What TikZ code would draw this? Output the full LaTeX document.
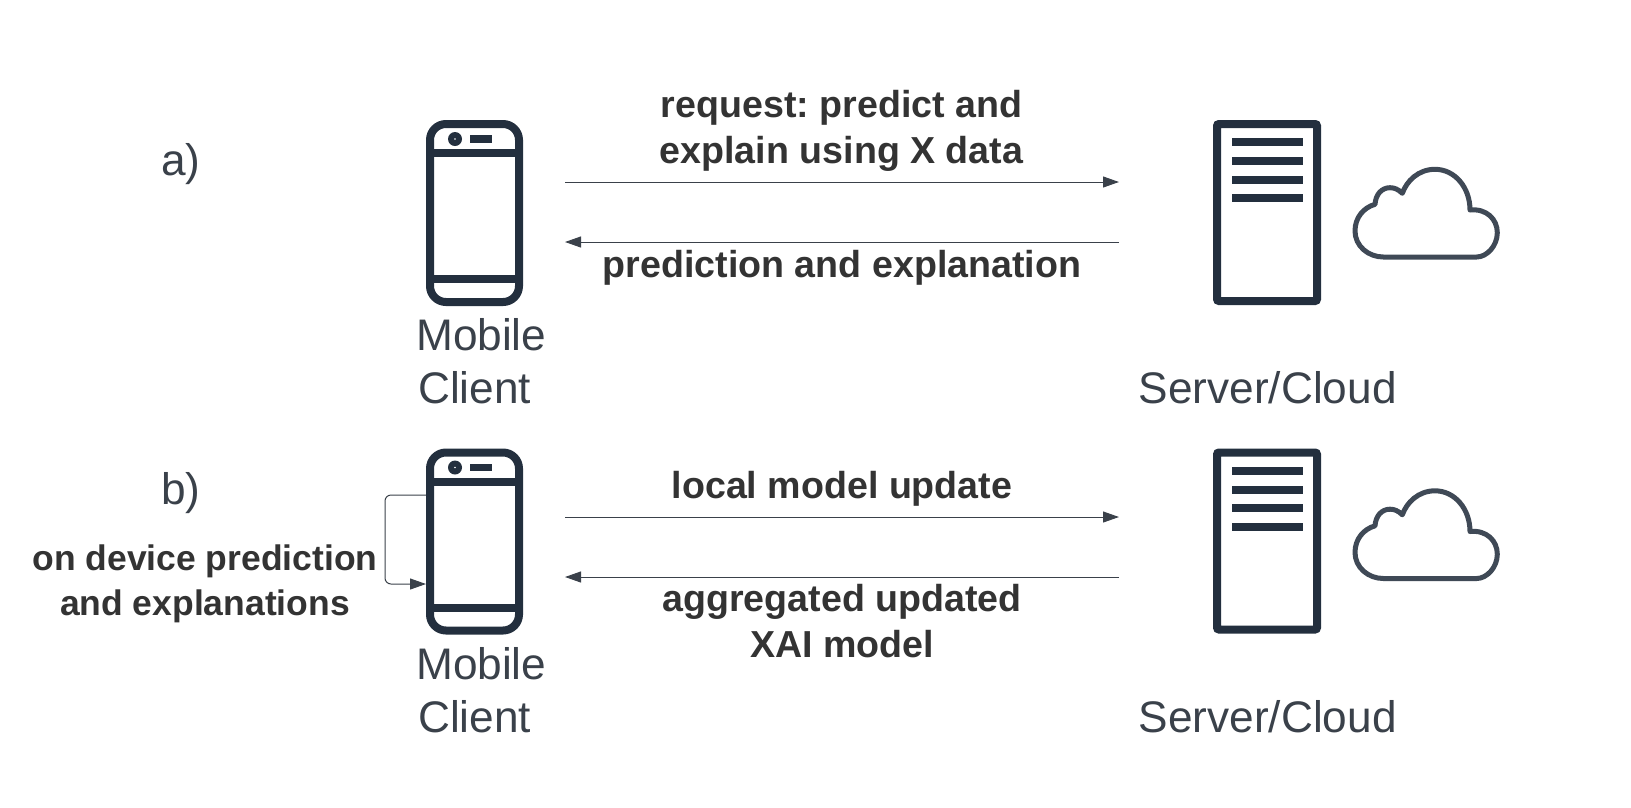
\documentclass[tikz,border=0pt]{standalone}
\usepackage{fontspec}
\setmainfont{Liberation Sans}
\usetikzlibrary{arrows.meta}
\frenchspacing
\definecolor{icon}{HTML}{232F3E}
\definecolor{cloudc}{HTML}{3F4956}
\definecolor{labelc}{HTML}{3A414A}
\definecolor{boldc}{HTML}{333333}
\definecolor{linec}{HTML}{3A414A}
\tikzset{
  x=1pt,y=-1pt,
  phonebody/.style={draw=icon,line width=8pt,rounded corners=16pt,minimum width=89pt,minimum height=178pt,inner sep=0pt,anchor=north west},
  serverbody/.style={draw=icon,line width=8pt,rounded corners=2pt,minimum width=100pt,minimum height=177pt,inner sep=0pt,anchor=north west},
  iconline/.style={draw=icon,line width=8pt},
  cloudline/.style={draw=cloudc,line width=5pt,line join=round},
  lbl/.style={text=labelc,font=\fontsize{44.2}{53}\selectfont,inner sep=0pt,align=left,anchor=base west},
  boldlbl/.style={text=boldc,font=\fontsize{37.6}{45.5}\selectfont\bfseries,inner sep=0pt,align=center,anchor=base},
  selflbl/.style={boldlbl,font=\fontsize{35.5}{45}\selectfont\bfseries},
  flow/.style={draw=linec,line width=1pt,-{Triangle[length=16pt,width=11pt]}},
  pics/phone/.style={code={
    \draw[iconline] (4,33) -- (92,33);
    \draw[iconline] (4,159) -- (92,159);
    \fill[icon] (29,19) circle (7pt);
    \fill[white] (29,19) circle (0.8pt);
    \fill[icon] (44,15) rectangle (66,22.5);
  }},
  pics/serverlines/.style={code={
    \foreach \yy in {22,41,59.5,78}{\fill[icon] (19,\yy-4) rectangle (90,\yy+4);}
  }},
  pics/cloudicon/.style={code={
    \draw[cloudline] (43.3,106) -- (136.7,106)
      .. controls (146.7,106) and (157.3,95) .. (157.3,81.7)
      .. controls (157.3,68.3) and (146.7,57.3) .. (130,59)
      .. controls (130,36.7) and (115,18.3) .. (95,18.3)
      .. controls (78.3,18.3) and (66.7,30) .. (62.3,42.3)
      .. controls (58.3,38.3) and (54.3,36.7) .. (50,36.7)
      .. controls (41.7,36.7) and (35.7,43.3) .. (35,53.3)
      .. controls (23.3,56.7) and (15,66.7) .. (15,80)
      .. controls (15,95) and (28.3,106) .. (43.3,106) -- cycle;
  }}
}
\begin{document}
\begin{tikzpicture}
\useasboundingbox (0,0) rectangle (1631,807);

% panel a
\node[lbl] (labA) at (161,175) {a)};
\node[phonebody] (phoneA) at (426,120) {};
\pic at (426,120) {phone};
\node[serverbody] (serverA) at (1213,120) {};
\pic at (1213,120) {serverlines};
\pic at (1340,151) {cloudicon};
\node[lbl] (mobA) at (416,403) {Mobile\\[0pt]\hspace{2pt}Client};
\node[lbl] (srvA) at (1138.5,403) {Server/Cloud};
\coordinate (a1s) at (565,182); \coordinate (a1e) at (1119,182);
\coordinate (a2s) at (1119,242); \coordinate (a2e) at (565,242);
\draw[flow] (a1s) -- (a1e);
\draw[flow] (a2s) -- (a2e);
\node[boldlbl] (reqA) at (841.5,163) {request: predict and\\explain using X data};
\node[boldlbl] (resA) at (842,277) {prediction and explanation};

% panel b
\node[lbl] (labB) at (161,504.5) {b)};
\node[phonebody] (phoneB) at (426,448.5) {};
\pic at (426,448.5) {phone};
\node[serverbody] (serverB) at (1213,448.5) {};
\pic at (1213,448.5) {serverlines};
\pic at (1340,472.5) {cloudicon};
\node[lbl] (mobB) at (416,732) {Mobile\\[0pt]\hspace{2pt}Client};
\node[lbl] (srvB) at (1138.5,732) {Server/Cloud};
\coordinate (b1s) at (565,517); \coordinate (b1e) at (1119,517);
\coordinate (b2s) at (1119,577); \coordinate (b2e) at (565,577);
\draw[flow] (b1s) -- (b1e);
\draw[flow] (b2s) -- (b2e);
\node[boldlbl] (reqB) at (842,498) {local model update};
\node[boldlbl] (resB) at (842,657) {aggregated updated\\XAI model};
\node[selflbl] (selfB) at (205,615) {on device prediction\\and explanations};
\coordinate (ls) at (phoneB.west |- 0,495);
\coordinate (le) at (phoneB.west |- 0,584);
\draw[flow,rounded corners=6pt] (ls) -- (385,495) -- (385,584) -- (le);
\end{tikzpicture}
\end{document}
